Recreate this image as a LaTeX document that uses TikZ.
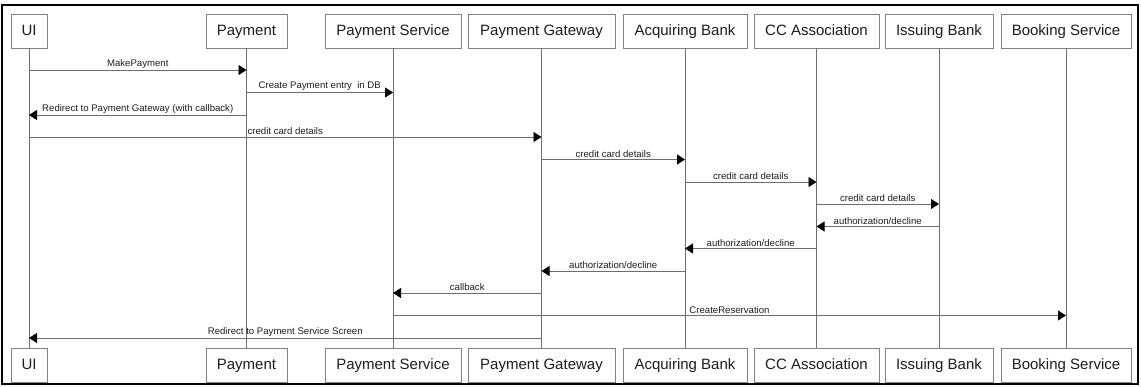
\documentclass[tikz,border=0pt]{standalone}
\usepackage{fontspec}
\setmainfont{Liberation Sans}
\usetikzlibrary{arrows.meta}
\definecolor{lifegray}{RGB}{110,110,110}
\definecolor{boxgray}{RGB}{130,130,130}
\definecolor{txt}{RGB}{30,30,30}
\begin{document}
\begin{tikzpicture}[x=1pt,y=-1pt,
  actor/.style={draw=boxgray,line width=0.9pt,fill=white,minimum height=34pt,inner sep=0pt,
    text height=11pt,text depth=3pt,
    text=txt,font=\fontsize{15}{18}\selectfont,anchor=center},
  life/.style={draw=lifegray,line width=0.9pt},
  msg/.style={draw=lifegray,line width=0.9pt,-{Triangle[length=8pt,width=10pt,black]}},
  lbl/.style={above,inner sep=1.5pt,text=txt,font=\fontsize{9.6}{11}\selectfont}]
\useasboundingbox (0,0) rectangle (1141,386);
\fill[white] (0,0) rectangle (1141,386);
\draw[black,line width=2.5pt] (2,5) rectangle (1138,384);
% top actors
\node[actor,minimum width=36pt] (t1) at (29,31) {UI};
\node[actor,minimum width=81pt] (t2) at (246.5,31) {Payment};
\node[actor,minimum width=136pt] (t3) at (393,31) {Payment Service};
\node[actor,minimum width=147pt] (t4) at (541.5,31) {Payment Gateway};
\node[actor,minimum width=124pt] (t5) at (685,31) {Acquiring Bank};
\node[actor,minimum width=125pt] (t6) at (816.5,31) {CC Association};
\node[actor,minimum width=108pt] (t7) at (939,31) {Issuing Bank};
\node[actor,minimum width=130pt] (t8) at (1066,31) {Booking Service};
% bottom actors
\node[actor,minimum width=36pt] (b1) at (29,365) {UI};
\node[actor,minimum width=81pt] (b2) at (246.5,365) {Payment};
\node[actor,minimum width=136pt] (b3) at (393,365) {Payment Service};
\node[actor,minimum width=147pt] (b4) at (541.5,365) {Payment Gateway};
\node[actor,minimum width=124pt] (b5) at (685,365) {Acquiring Bank};
\node[actor,minimum width=125pt] (b6) at (816.5,365) {CC Association};
\node[actor,minimum width=108pt] (b7) at (939,365) {Issuing Bank};
\node[actor,minimum width=130pt] (b8) at (1066,365) {Booking Service};
% lifelines
\foreach \i in {1,...,8} {\draw[life] (t\i.south) -- (b\i.north);}
% messages
\draw[msg] (t1 |- 0,70) -- node[lbl]{MakePayment} (t2 |- 0,70);
\draw[msg] (t2 |- 0,92.5) -- node[lbl]{Create Payment entry\ \ in DB} (t3 |- 0,92.5);
\draw[msg] (t2 |- 0,115) -- node[lbl]{Redirect to Payment Gateway (with callback)} (t1 |- 0,115);
\draw[msg] (t1 |- 0,137) -- node[lbl]{credit card details} (t4 |- 0,137);
\draw[msg] (t4 |- 0,159.5) -- node[lbl]{credit card details} (t5 |- 0,159.5);
\draw[msg] (t5 |- 0,182) -- node[lbl]{credit card details} (t6 |- 0,182);
\draw[msg] (t6 |- 0,204) -- node[lbl]{credit card details} (t7 |- 0,204);
\draw[msg] (t7 |- 0,226.5) -- node[lbl]{authorization/decline} (t6 |- 0,226.5);
\draw[msg] (t6 |- 0,248.5) -- node[lbl]{authorization/decline} (t5 |- 0,248.5);
\draw[msg] (t5 |- 0,271) -- node[lbl]{authorization/decline} (t4 |- 0,271);
\draw[msg] (t4 |- 0,293) -- node[lbl]{callback} (t3 |- 0,293);
\draw[msg] (t3 |- 0,315.5) -- node[lbl]{CreateReservation} (t8 |- 0,315.5);
\draw[msg] (t4 |- 0,338) -- node[lbl]{Redirect to Payment Service Screen} (t1 |- 0,338);
\end{tikzpicture}
\end{document}
